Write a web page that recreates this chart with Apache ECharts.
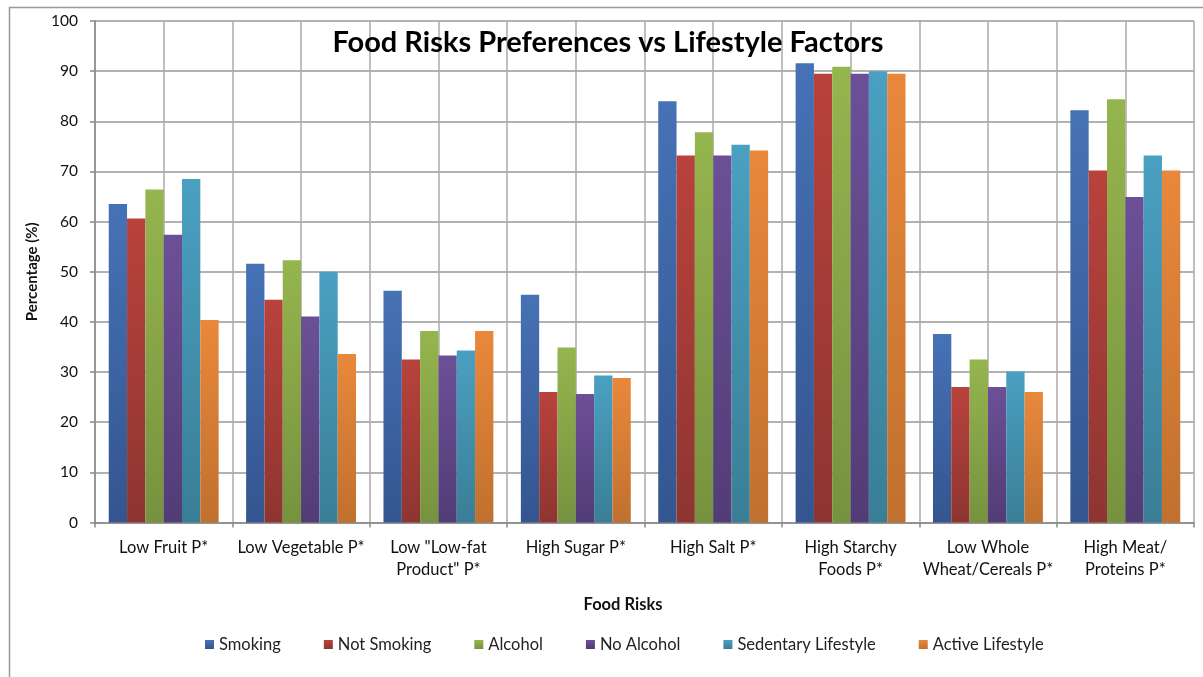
<!DOCTYPE html>
<html>
<head>
<meta charset="utf-8">
<script src="https://cdn.jsdelivr.net/npm/echarts@6/dist/echarts.min.js"></script>
<style>
html,body{margin:0;padding:0;background:#fff;}
#chart{width:1203px;height:677px;}
</style>
</head>
<body>
<div id="chart"></div>
<script>
const categories = ['Low Fruit P*', 'Low Vegetable P*', 'Low "Low-fat\nProduct" P*', 'High Sugar P*', 'High Salt P*', 'High Starchy\nFoods P*', 'Low Whole\nWheat/Cereals P*', 'High Meat/\nProteins P*'];
const seriesNames = ['Smoking', 'Not Smoking', 'Alcohol', 'No Alcohol', 'Sedentary Lifestyle', 'Active Lifestyle'];
const smoking      = [63.5, 51.6, 46.2, 45.4, 84.0, 91.6, 37.6, 82.2];
const notSmoking   = [60.6, 44.4, 32.5, 26.0, 73.2, 89.5, 27.0, 70.2];
const alcohol      = [66.4, 52.3, 38.2, 34.9, 77.8, 90.9, 32.5, 84.4];
const noAlcohol    = [57.4, 41.1, 33.3, 25.6, 73.2, 89.5, 27.0, 64.9];
const sedentary    = [68.5, 50.0, 34.3, 29.3, 75.3, 90.0, 30.1, 73.2];
const active       = [40.4, 33.6, 38.2, 28.8, 74.2, 89.5, 26.0, 70.2];
const yTicks = [0, 10, 20, 30, 40, 50, 60, 70, 80, 90, 100];

const values = [smoking, notSmoking, alcohol, noAlcohol, sedentary, active];
const topColors = ['#4672B6', '#B9423C', '#95B54E', '#6C5097', '#4AA0C1', '#E9883B'];
const bottomColors = ['#34558F', '#8E3531', '#77923F', '#523C76', '#3A7E96', '#C0702F'];
const flatColors = ['#3F65A6', '#A83C37', '#88A547', '#5F468A', '#4390AF', '#D97C36'];

const halfCats = [];
for (let i = 0; i < categories.length * 2; i++) halfCats.push('h' + i);

const chart = echarts.init(document.getElementById('chart'));
const font = 'Lato, "Open Sans", sans-serif';

chart.setOption({
  backgroundColor: '#fff',
  animation: false,
  textStyle: { fontFamily: font },
  color: flatColors,
  grid: { left: 95, right: 9, top: 21, bottom: 154.5, containLabel: false },
  legend: {
    data: seriesNames,
    left: 200,
    top: 631,
    itemWidth: 9,
    itemHeight: 9,
    itemGap: 43,
    icon: 'rect',
    textStyle: { fontFamily: font, fontSize: 16.5, color: '#222' }
  },
  xAxis: [
    {
      type: 'category',
      data: categories,
      axisLine: { show: true, lineStyle: { color: '#888', width: 1.5 } },
      axisTick: { show: true, length: 5, alignWithLabel: false, lineStyle: { color: '#888', width: 1.5 } },
      axisLabel: { interval: 0, fontFamily: font, fontSize: 16.5, color: '#111', margin: 14, lineHeight: 22 },
      splitLine: { show: false }
    },
    {
      type: 'category',
      data: halfCats,
      position: 'bottom',
      axisLine: { show: false },
      axisTick: { show: false },
      axisLabel: { show: false },
      splitLine: { show: true, interval: 0, lineStyle: { color: '#aaa', width: 1.5 } }
    }
  ],
  yAxis: {
    type: 'value',
    min: yTicks[0],
    max: yTicks[yTicks.length - 1],
    interval: 10,
    name: 'Percentage (%)',
    nameLocation: 'middle',
    nameGap: 50,
    nameTextStyle: { fontFamily: font, fontSize: 15, fontWeight: 'bold', color: '#111' },
    axisLine: { show: true, lineStyle: { color: '#888', width: 1.5 } },
    axisTick: { show: true, length: 5, lineStyle: { color: '#888', width: 1.5 } },
    axisLabel: { fontFamily: font, fontSize: 15.5, color: '#111', margin: 17 },
    splitLine: { show: true, lineStyle: { color: '#999', width: 1.5 } }
  },
  series: seriesNames.map((name, i) => ({
    name: name,
    type: 'bar',
    xAxisIndex: 0,
    data: values[i],
    barGap: '0%',
    barCategoryGap: '20%',
    itemStyle: {
      color: new echarts.graphic.LinearGradient(0, 0, 0, 1, [
        { offset: 0, color: topColors[i] },
        { offset: 1, color: bottomColors[i] }
      ])
    }
  })),
  graphic: [
    {
      type: 'rect',
      z: -1,
      silent: true,
      shape: { x: 9.5, y: 7.5, width: 1400, height: 900 },
      style: { fill: 'none', stroke: '#999', lineWidth: 1.5 }
    },
    {
      type: 'text',
      z: 100,
      x: 608,
      y: 43,
      style: {
        text: 'Food Risks Preferences vs Lifestyle Factors',
        fontFamily: font,
        fontSize: 29,
        fontWeight: 'bold',
        fill: '#000',
        textAlign: 'center',
        textVerticalAlign: 'middle'
      }
    },
    {
      type: 'text',
      z: 100,
      x: 623,
      y: 605,
      style: {
        text: 'Food Risks',
        fontFamily: font,
        fontSize: 16.5,
        fontWeight: 'bold',
        fill: '#111',
        textAlign: 'center',
        textVerticalAlign: 'middle'
      }
    }
  ]
});
</script>
</body>
</html>
